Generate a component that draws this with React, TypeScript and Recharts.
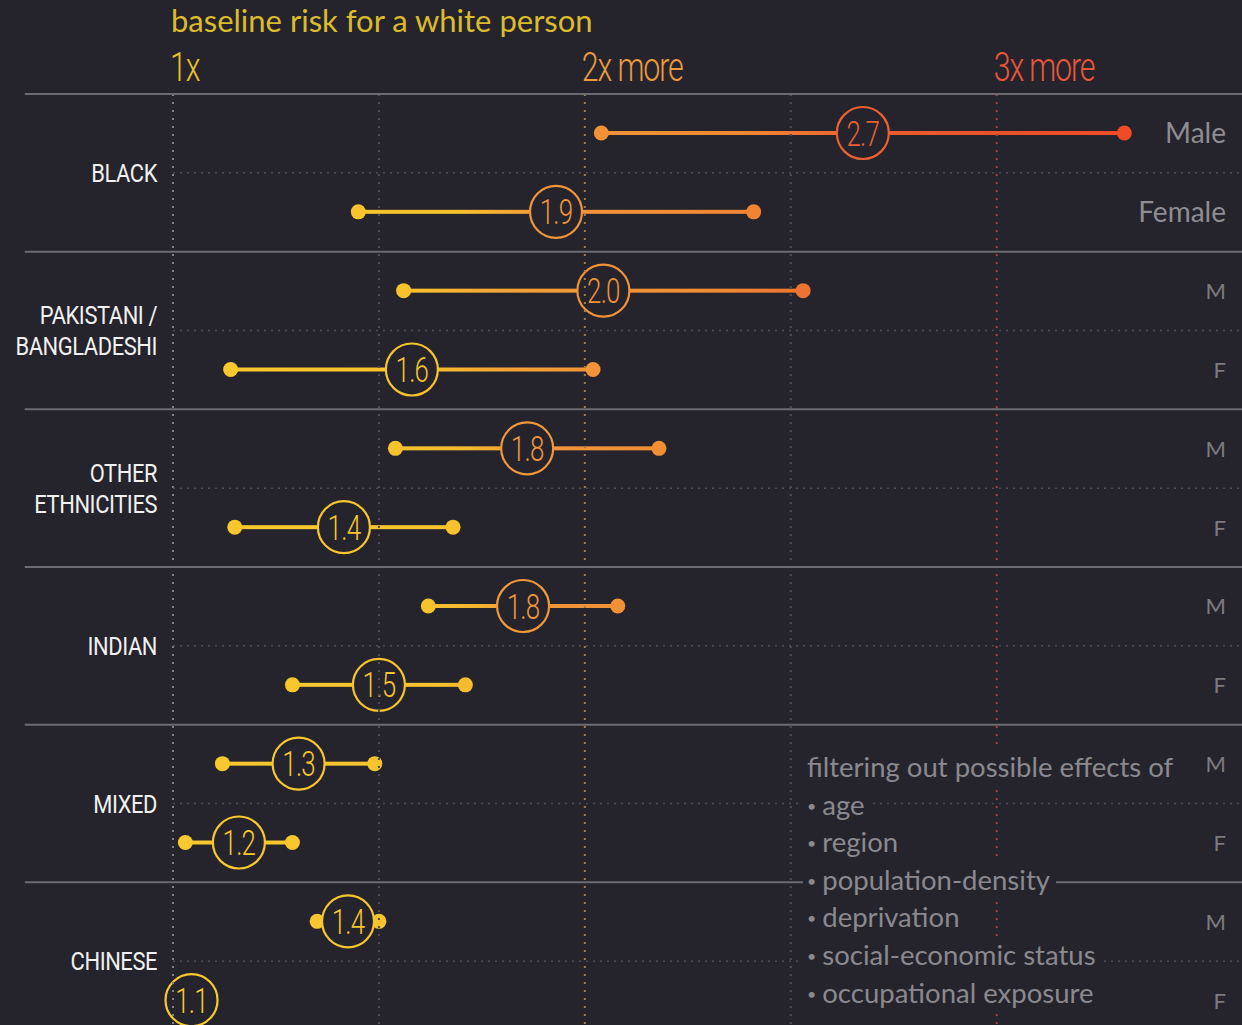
import React from 'react';
import { ComposedChart, Bar, XAxis, YAxis, ReferenceLine } from 'recharts';

// ---------- data ----------
const groupNames: string[][] = [
  ['BLACK'],
  ['PAKISTANI /', 'BANGLADESHI'],
  ['OTHER', 'ETHNICITIES'],
  ['INDIAN'],
  ['MIXED'],
  ['CHINESE'],
];
const sexLabels = ['Male', 'Female', 'M', 'F', 'M', 'F', 'M', 'F', 'M', 'F', 'M', 'F'];
const lowValues = [2.04, 1.45, 1.56, 1.14, 1.54, 1.15, 1.62, 1.29, 1.12, 1.03, 1.35, 1.02];
const highValues = [3.31, 2.41, 2.53, 2.02, 2.18, 1.68, 2.08, 1.71, 1.49, 1.29, 1.5, 1.07];
const riskLabels = [2.7, 1.9, 2.0, 1.6, 1.8, 1.4, 1.8, 1.5, 1.3, 1.2, 1.4, 1.1];
const xTicks = [1, 2, 3];
const xTickLabels = ['1x', '2x more', '3x more'];
const gridValues = [1, 1.5, 2, 2.5, 3];
const title = 'baseline risk for a white person';
const noteHeader = 'filtering out possible effects of';
const noteItems = ['age', 'region', 'population-density', 'deprivation', 'social-economic status', 'occupational exposure'];

const rows = lowValues.map((lo, i) => ({
  row: i,
  range: [lo, highValues[i]],
  label: riskLabels[i],
  sex: sexLabels[i],
}));

// ---------- styles ----------
const BG = '#25242c';
const COND = "Roboto, 'Noto Sans', sans-serif";
const ROUND = "Lato, 'Open Sans', 'Noto Sans', sans-serif";
const xTickColors = ['#e6c22c', '#eb9a3e', '#e9573a'];
const gridColors = ['#85838a', '#4f4e57', '#a07e45', '#4f4e57', '#96493a'];

const colorStops: [number, string][] = [
  [1.0, '#f8c92e'],
  [1.68, '#f7c22c'],
  [1.86, '#f1963a'],
  [2.35, '#f28c33'],
  [2.62, '#ec6530'],
  [2.85, '#e9532c'],
  [3.4, '#f04a26'],
];

function hexToRgb(h: string) {
  const n = parseInt(h.slice(1), 16);
  return [(n >> 16) & 255, (n >> 8) & 255, n & 255];
}
function colorAt(v: number) {
  if (v <= colorStops[0][0]) return colorStops[0][1];
  for (let i = 1; i < colorStops.length; i++) {
    if (v <= colorStops[i][0]) {
      const [v0, c0] = colorStops[i - 1];
      const [v1, c1] = colorStops[i];
      const t = (v - v0) / (v1 - v0);
      const a = hexToRgb(c0);
      const b = hexToRgb(c1);
      const m = a.map((x, k) => Math.round(x + (b[k] - x) * t));
      return `rgb(${m[0]},${m[1]},${m[2]})`;
    }
  }
  return colorStops[colorStops.length - 1][1];
}

// ---------- custom pieces ----------
const RangeShape = (props: any) => {
  const { x, y, width, height, payload, index } = props;
  if (!payload) return null;
  const cy = y + height / 2;
  const [lo, hi] = payload.range;
  const mid = (lo + hi) / 2;
  const cx = x + width / 2;
  const id = `rg${index}`;
  const c = colorAt(mid);
  return (
    <g>
      <defs>
        <linearGradient id={id} gradientUnits="userSpaceOnUse" x1={x} x2={x + width} y1={0} y2={0}>
          {[0, 0.25, 0.5, 0.75, 1].map((t) => (
            <stop key={t} offset={t} stopColor={colorAt(lo + t * (hi - lo))} />
          ))}
        </linearGradient>
      </defs>
      <rect x={x} y={cy - 2} width={width} height={4} fill={`url(#${id})`} />
      <circle cx={x} cy={cy} r={7.5} fill={colorAt(lo)} />
      <circle cx={x + width} cy={cy} r={7.5} fill={colorAt(hi)} />
      <circle cx={cx} cy={cy} r={26} fill={BG} stroke={c} strokeWidth={2.2} />
      <g transform={`translate(${cx},${cy}) scale(0.74,1)`}>
        <text x={0} y={0} dy="0.36em" textAnchor="middle" fill={c} fontSize={35} fontWeight={300} fontFamily={COND} letterSpacing={-1}>
          {payload.label.toFixed(1)}
        </text>
      </g>
    </g>
  );
};

const XTick = (props: any) => {
  const { x, y, payload } = props;
  const i = xTicks.indexOf(payload.value);
  return (
    <g transform={`translate(${x - 3},${y - 13}) scale(0.76,1)`}>
      <text x={0} y={0} fill={xTickColors[i]} fontFamily={COND} fontWeight={300} fontSize={40} letterSpacing={-1.5}>
        {xTickLabels[i]}
      </text>
    </g>
  );
};

const GroupTick = (props: any) => {
  const { x, y, payload } = props;
  const g = Math.round((payload.value - 0.5) / 2);
  const lines = groupNames[g] || [];
  const lh = 31;
  return (
    <g transform={`translate(${x},${y}) scale(0.86,1)`}>
      <text x={0} y={0} textAnchor="end" fill="#f1f1f1" fontFamily={COND} fontSize={25.5} letterSpacing={-0.5}>
        {lines.map((l, k) => (
          <tspan key={k} x={0} y={(k - (lines.length - 1) / 2) * lh} dy="0.36em">
            {l}
          </tspan>
        ))}
      </text>
    </g>
  );
};

const SexTick = (props: any) => {
  const { x, y, payload } = props;
  const s = sexLabels[payload.value] || '';
  const big = s.length > 1;
  return (
    <text
      x={x + 44}
      y={y}
      dy="0.36em"
      textAnchor="end"
      fill={big ? '#8e8d92' : '#7c7b80'}
      fontFamily={ROUND}
      fontSize={big ? 28 : 22}
    >
      {s}
    </text>
  );
};

const separators = [-0.5, 1.5, 3.5, 5.5, 7.5, 9.5, 11.5];
const rowDividers = [0.5, 2.5, 4.5, 6.5, 8.5, 10.5];
const rowTicks = rows.map((r) => r.row);

export default function App() {
  return (
    <div
      style={{
        position: 'fixed',
        left: 0,
        top: 0,
        width: 1242,
        height: 1025,
        overflow: 'hidden',
        background: BG,
      }}
    >
      <ComposedChart
        layout="vertical"
        width={1242}
        height={1040}
        data={rows}
        margin={{ top: 0, right: 0, bottom: 0, left: 0 }}
      >
        <XAxis
          type="number"
          orientation="top"
          domain={[1, 3.45]}
          ticks={xTicks}
          height={94}
          axisLine={false}
          tickLine={false}
          tickSize={0}
          tickMargin={0}
          tick={<XTick />}
          interval={0}
        />
        <YAxis
          yAxisId="left"
          dataKey="row"
          type="number"
          domain={[-0.5, 11.5]}
          width={173}
          ticks={rowDividers}
          axisLine={false}
          tickLine={false}
          tickSize={0}
          tickMargin={16}
          tick={<GroupTick />}
          interval={0}
        />
        <YAxis
          yAxisId="right"
          dataKey="row"
          orientation="right"
          type="number"
          domain={[-0.5, 11.5]}
          width={60}
          ticks={rowTicks}
          axisLine={false}
          tickLine={false}
          tickSize={0}
          tickMargin={0}
          tick={<SexTick />}
          interval={0}
        />
        {gridValues.map((v, i) => (
          <ReferenceLine
            key={`gx${v}`}
            yAxisId="left"
            x={v}
            stroke={gridColors[i]}
            strokeWidth={2}
            strokeDasharray="2 6"
          />
        ))}
        {rowDividers.map((v) => (
          <ReferenceLine
            key={`rd${v}`}
            yAxisId="left"
            segment={[
              { x: 1, y: v },
              { x: 3.6, y: v },
            ]}
            stroke="#4d4c56"
            strokeWidth={1.5}
            strokeDasharray="2 5"
            ifOverflow="visible"
          />
        ))}
        {separators.map((v) => (
          <ReferenceLine
            key={`sp${v}`}
            yAxisId="left"
            segment={[
              { x: 0.64, y: v },
              { x: 3.6, y: v },
            ]}
            stroke="#6c6b72"
            strokeWidth={2}
            ifOverflow="visible"
          />
        ))}
        <Bar yAxisId="left" dataKey="range" barSize={54} shape={RangeShape} isAnimationActive={false} />
      </ComposedChart>

      <div
        style={{
          position: 'absolute',
          left: 171,
          top: 1,
          fontFamily: ROUND,
          fontSize: 31,
          lineHeight: '38px',
          color: '#dcbc2c',
          whiteSpace: 'nowrap',
        }}
      >
        {title}
      </div>

      <div
        style={{
          position: 'absolute',
          left: 803,
          top: 748,
          fontFamily: ROUND,
          fontSize: 27.5,
          color: '#8a898f',
          whiteSpace: 'nowrap',
        }}
      >
        {[noteHeader, ...noteItems].map((t, k) => (
          <div
            key={t}
            style={{
              width: 'fit-content',
              height: 37.6,
              lineHeight: '37.6px',
              background: BG,
              padding: '0 6px 0 4px',
            }}
          >
            {k > 0 && <span style={{ fontSize: 16, marginRight: 6, position: 'relative', top: -3 }}>•</span>}
            {t}
          </div>
        ))}
      </div>
    </div>
  );
}
